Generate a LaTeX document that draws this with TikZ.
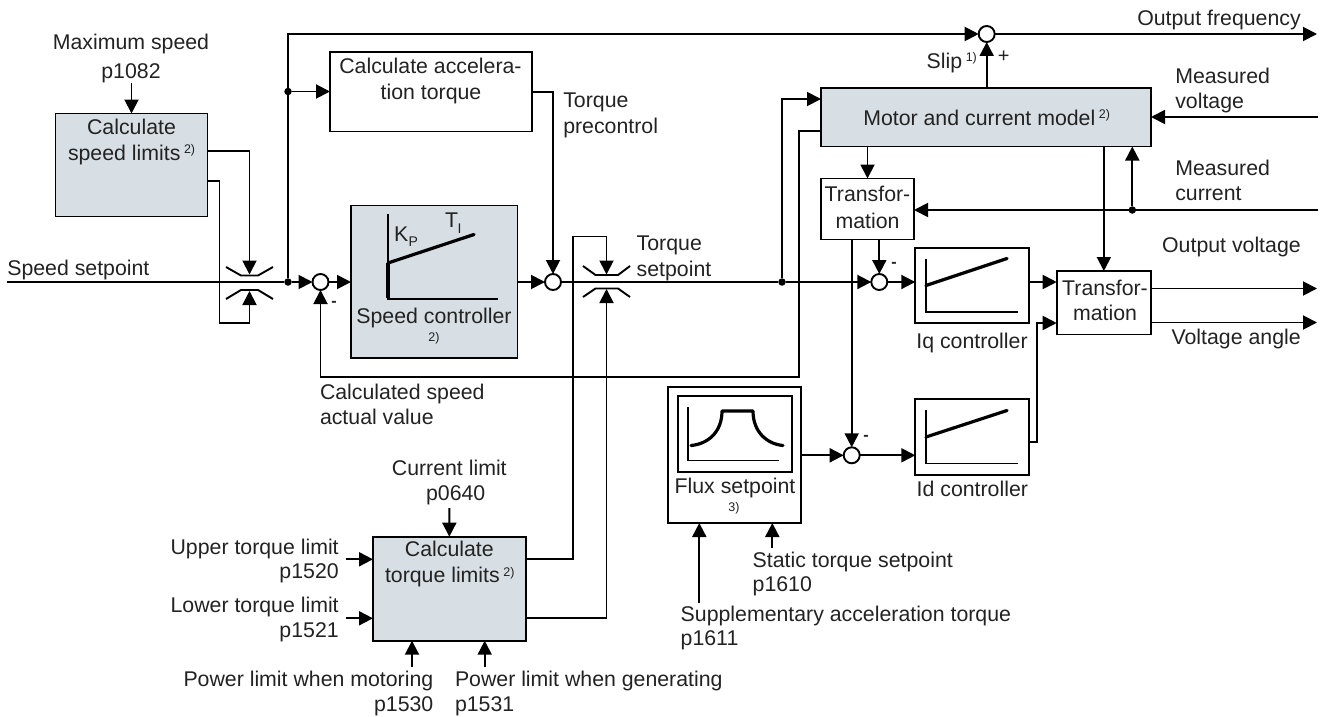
\documentclass[tikz,border=0pt]{standalone}
\usepackage{fontspec}
\setmainfont{Liberation Sans}
\usetikzlibrary{arrows.meta}
\definecolor{boxfill}{HTML}{D7DFE4}
\definecolor{ink}{HTML}{222222}
\newcommand{\fn}[1]{\,\raisebox{6.5pt}{\fontsize{12.5}{12.5}\selectfont #1}}
\tikzset{
  x=1pt,y=-1pt,
  wire/.style={line width=1.9pt,draw=black,line join=miter},
  arr/.style={wire,-{Triangle[length=14pt,width=14pt]}},
  thickline/.style={line width=3.2pt,line cap=round},
  axis/.style={line width=1.9pt,line join=miter},
  box/.style={draw=black,line width=1.9pt,rectangle,inner sep=0pt,outer sep=0pt},
  grey/.style={box,fill=boxfill},
  white box/.style={box,fill=white},
  sum/.style={circle,draw=black,fill=white,line width=1.9pt,minimum size=16pt,inner sep=0pt,outer sep=0pt},
  dot/.style={circle,fill=black,minimum size=7.5pt,inner sep=0pt,outer sep=0pt},
  lbl/.style={font=\fontsize{21.3}{21.3}\selectfont,text=ink,inner sep=0pt,outer sep=0pt},
  lw/.style={lbl,anchor=base west},
  lc/.style={lbl,anchor=base},
  le/.style={lbl,anchor=base east},
  tiny/.style={font=\fontsize{12.5}{12.5}\selectfont,text=ink,inner sep=0pt,anchor=center},
  sign/.style={font=\bfseries\fontsize{16}{16}\selectfont,text=ink,inner sep=0pt,anchor=center},
  plus/.style={font=\fontsize{20}{20}\selectfont,text=ink,inner sep=0pt,anchor=center},
}
\begin{document}
\begin{tikzpicture}
\useasboundingbox (0,0) rectangle (1322,717);
% ---- boxes
\node[grey,minimum width=152pt,minimum height=103pt] (speedlim) at (131.5,165) {};
\node[white box,minimum width=202pt,minimum height=79.5pt] (accel) at (431,91.75) {};
\node[grey,minimum width=166.5pt,minimum height=152.5pt] (speedctl) at (434.25,281.75) {};
\node[grey,minimum width=330pt,minimum height=58.5pt] (motor) at (986,117.25) {};
\node[white box,minimum width=93pt,minimum height=61pt] (trans1) at (867.5,209) {};
\node[white box,minimum width=113.7pt,minimum height=75pt] (iq) at (972.15,285.5) {};
\node[white box,minimum width=113.7pt,minimum height=75.7pt] (id) at (972.15,437.15) {};
\node[white box,minimum width=94.3pt,minimum height=63.5pt] (trans2) at (1103.85,302.75) {};
\node[white box,minimum width=132.7pt,minimum height=136.3pt] (flux) at (734.65,454.85) {};
\node[box,minimum width=114pt,minimum height=75.7pt] (fluxin) at (734.7,433.85) {};
\node[grey,minimum width=152.7pt,minimum height=104pt] (torqlim) at (449.35,588.7) {};
% ---- summing points
\node[sum] (s1) at (320.5,282) {};
\node[sum] (s2) at (553,282) {};
\node[sum] (s3) at (986.7,34) {};
\node[sum] (s4) at (879.3,282) {};
\node[sum] (s5) at (851.7,455.3) {};
% ---- junctions
\node[dot] (j1) at (288,282) {};
\node[dot] (j2) at (288,91.5) {};
\node[dot] (j3) at (782,282) {};
\node[dot] (j4) at (1132.3,210) {};
% ---- free ends
\coordinate (lima) at (249.5,274.5);
\coordinate (limb) at (249.5,291);
\coordinate (limc) at (606.5,274.5);
\coordinate (limd) at (606.5,289);
\coordinate (inspeed) at (7,282);
\coordinate (inmax) at (131.5,83);
\coordinate (outfreq) at (1317,34);
\coordinate (involt) at (1318,117);
\coordinate (incurr) at (1318,210);
\coordinate (outv) at (1317,288.5);
\coordinate (outa) at (1317,322.5);
\coordinate (incl) at (449.3,508);
\coordinate (inup) at (346,559.3);
\coordinate (inlo) at (346,618.3);
\coordinate (inpm) at (412,667);
\coordinate (inpg) at (484.7,667);
\coordinate (insup) at (699.3,603);
\coordinate (inst) at (772.3,548);
% ---- limiters
\draw[wire] (226,267) -- (241,275.5) -- (258,275.5) -- (273,267);
\draw[wire] (226,299) -- (241,290) -- (258,290) -- (273,299);
\draw[wire] (583,266) -- (595.5,275) -- (618,275) -- (630,266);
\draw[wire] (583,297) -- (595.5,288.5) -- (618,288.5) -- (630,297);
% ---- connectors
\draw[wire] (inspeed) -- (j1);
\draw[arr] (j1) -- (s1.west);
\draw[arr] (inmax) -- (speedlim.north);
\draw[arr] (speedlim.east |- 0,151) -| (lima);
\draw[arr] (speedlim.east |- 0,181) -- (219.5,181) -- (219.5,323) -- (249.5,323) -- (limb);
\draw[wire] (j1) -- (j2);
\draw[arr] (j2) -- (288,34) -- (s3.west);
\draw[arr] (j2) -- (accel.west |- j2);
\draw[arr] (s1.east) -- (speedctl.west |- s1);
\draw[arr] (speedctl.east |- s2) -- (s2.west);
\draw[arr] (accel.east |- 0,92) -| (s2.north);
\draw[wire] (s2.east) -- (j3);
\draw[arr] (j3) -- (s4.west);
\draw[arr] (j3) |- (motor.west |- 0,99);
\draw[arr] (motor.west |- 0,131) -- (799,131) -- (799,377) -- (320.5,377) -- (s1.south);
\draw[arr] (torqlim.east |- 0,559.3) -- (573.3,559.3) -- (573.3,236.5) -- (606.5,236.5) -- (limc);
\draw[arr] (torqlim.east |- 0,618.3) -- (606.5,618.3) -- (limd);
\draw[arr] (motor.north -| s3) -- (s3.south);
\draw[arr] (s3.east) -- (outfreq);
\draw[arr] (involt) -- (motor.east |- involt);
\draw[wire] (incurr) -- (j4);
\draw[arr] (j4) -- (trans1.east |- j4);
\draw[arr] (j4) -- (motor.south -| j4);
\draw[arr] (motor.south -| trans1) -- (trans1.north);
\draw[arr] (motor.south -| trans2) -- (trans2.north);
\draw[arr] (trans1.south -| s4) -- (s4.north);
\draw[arr] (trans1.south -| s5) -- (s5.north);
\draw[arr] (s4.east) -- (iq.west |- s4);
\draw[arr] (iq.east |- 0,282) -- (trans2.west |- 0,282);
\draw[arr] (flux.east |- s5) -- (s5.west);
\draw[arr] (s5.east) -- (id.west |- s5);
\draw[arr] (id.east |- 0,442) -- (1036.7,442) -- (1036.7,323) -- (trans2.west |- 0,323);
\draw[arr] (trans2.east |- outv) -- (outv);
\draw[arr] (trans2.east |- outa) -- (outa);
\draw[arr] (incl) -- (torqlim.north);
\draw[arr] (inup) -- (torqlim.west |- inup);
\draw[arr] (inlo) -- (torqlim.west |- inlo);
\draw[arr] (inpm) -- (torqlim.south -| inpm);
\draw[arr] (inpg) -- (torqlim.south -| inpg);
\draw[arr] (insup) -- (flux.south -| insup);
\draw[arr] (inst) -- (flux.south -| inst);
% ---- inner graphs
\draw[axis] (388,214) -- (388,298.7) -- (498,298.7);
\draw[line width=3.2pt] (388,263) -- (388,298);
\draw[thickline] (388,263) -- (474,234.5);
\draw[axis] (926,259) -- (926,312) -- (1018,312);
\draw[thickline] (926,285.5) -- (1007,258.5);
\draw[axis] (926,410) -- (926,463.5) -- (1018,463.5);
\draw[thickline] (926,437) -- (1007,410.5);
\draw[axis] (688,407) -- (688,460.5) -- (779,460.5);
\draw[thickline,line join=round] (691,445.5) .. controls (708,444) and (722,432) .. (722,411) -- (753,411) .. controls (753,432) and (767,444) .. (783,445.5);
% ---- labels
\node[lc] (t1) at (131,49) {Maximum speed};
\node[lc] (t2) at (131,78) {p1082};
\node[lc] (t3) at (131.5,134) {Calculate};
\node[lw] (t4) at (68,160) {speed limits\fn{2)}};
\node[lw] (t5) at (7.3,275.7) {Speed setpoint};
\node[lw] (t6) at (339.3,74) {Calculate accelera-};
\node[lw] (t7) at (380.7,99.3) {tion torque};
\node[lw] (t8) at (563.3,107.7) {Torque};
\node[lw] (t9) at (563.3,133) {precontrol};
\node[lw] (t10) at (636.7,250) {Torque};
\node[lw] (t11) at (636.7,276) {setpoint};
\node[lc] (t12) at (434,323) {Speed controller};
\node[tiny] (t13) at (434,338.5) {2)};
\node[lw] (t14) at (394,241) {K};
\node[lbl,anchor=base west,font=\fontsize{14}{14}\selectfont] (t15) at (408.5,246) {P};
\node[lw] (t16) at (445,227) {T};
\node[lbl,anchor=base west,font=\fontsize{14}{14}\selectfont] (t17) at (457.5,233) {I};
\node[lw] (t18) at (863.3,125) {Motor and current model\fn{2)}};
\node[lc] (t19) at (867.5,201.7) {Transfor-};
\node[lc] (t20) at (867.5,228) {mation};
\node[lc] (t21) at (1105,295) {Transfor-};
\node[lc] (t22) at (1105,320) {mation};
\node[lw] (t23) at (926.7,68) {Slip\fn{1)}};
\node[plus] (t24) at (1003.7,56.5) {+};
\node[le] (t25) at (1300.7,26) {Output frequency};
\node[lw] (t26) at (1175.3,83.3) {Measured};
\node[lw] (t27) at (1175.3,108.3) {voltage};
\node[lw] (t28) at (1175.3,175) {Measured};
\node[lw] (t29) at (1175.3,200.7) {current};
\node[le] (t30) at (1300.7,252.7) {Output voltage};
\node[le] (t31) at (1300.7,344) {Voltage angle};
\node[lc] (t32) at (972,348) {Iq controller};
\node[lw] (t33) at (916.7,496) {Id controller};
\node[lw] (t34) at (320,399) {Calculated speed};
\node[lw] (t35) at (320,424) {actual value};
\node[lc] (t36) at (449.3,475) {Current limit};
\node[lc] (t37) at (455.7,500.7) {p0640};
\node[le] (t38) at (338.7,554) {Upper torque limit};
\node[le] (t39) at (338.7,578) {p1520};
\node[le] (t40) at (338.7,612.3) {Lower torque limit};
\node[le] (t41) at (338.7,637.3) {p1521};
\node[lc] (t42) at (449.3,556.7) {Calculate};
\node[lw] (t43) at (385,582.7) {torque limits\fn{2)}};
\node[le] (t44) at (433.3,686) {Power limit when motoring};
\node[le] (t45) at (433.3,711.7) {p1530};
\node[lw] (t46) at (455,686) {Power limit when generating};
\node[lw] (t47) at (455,711.7) {p1531};
\node[lc] (t48) at (735,493.3) {Flux setpoint};
\node[tiny] (t49) at (734,508) {3)};
\node[lw] (t50) at (752.7,567.3) {Static torque setpoint};
\node[lw] (t51) at (752.7,591.7) {p1610};
\node[lw] (t52) at (680.7,621) {Supplementary acceleration torque};
\node[lw] (t53) at (680.7,645.7) {p1611};
\node[sign] (t54) at (334,304) {-};
\node[sign] (t55) at (894,265) {-};
\node[sign] (t56) at (866,437.5) {-};
\end{tikzpicture}
\end{document}
